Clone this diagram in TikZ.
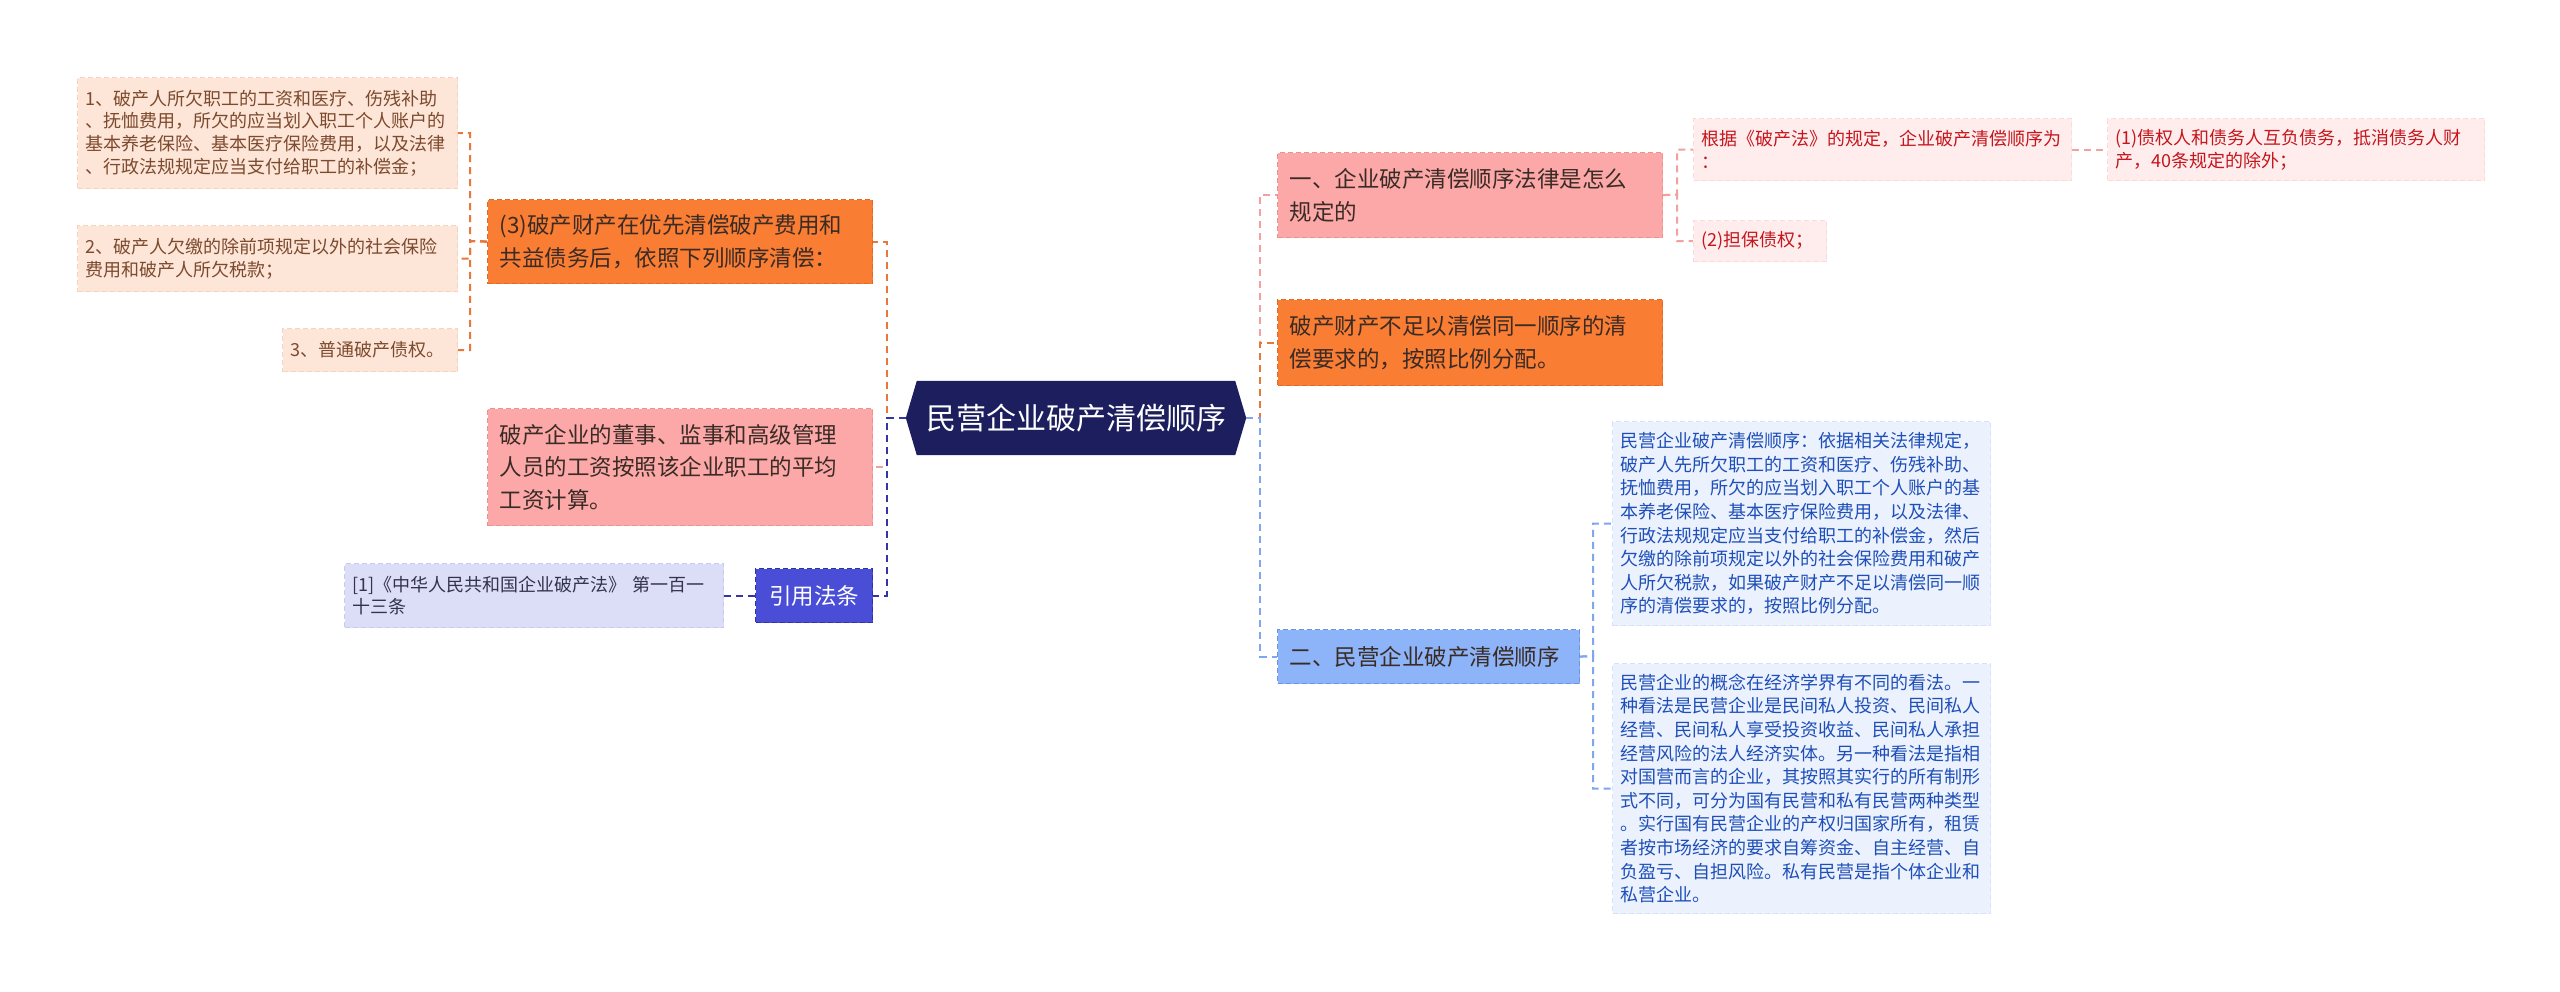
\documentclass[tikz,border=0pt]{standalone}
\usepackage{fontspec}
\setmainfont{Noto Sans CJK SC}
\newcommand\fsz[2]{\fontsize{#1pt}{#2pt}\selectfont}
\definecolor{navy}{HTML}{1C1E5E}
\definecolor{orF}{HTML}{FA7D34}
\definecolor{orD}{HTML}{E06A24}
\definecolor{orE}{HTML}{E8783A}
\definecolor{pkF}{HTML}{FCA8A8}
\definecolor{pkD}{HTML}{EE9090}
\definecolor{pkE}{HTML}{F2A0A0}
\definecolor{peF}{HTML}{FDE5D7}
\definecolor{peD}{HTML}{F6D3C0}
\definecolor{peT}{HTML}{7C4A2E}
\definecolor{roF}{HTML}{FFEDED}
\definecolor{roD}{HTML}{FADADA}
\definecolor{roT}{HTML}{C4161C}
\definecolor{yyF}{HTML}{4A4ED6}
\definecolor{yyD}{HTML}{2F33A8}
\definecolor{yyE}{HTML}{3436A8}
\definecolor{rfF}{HTML}{DCDDF6}
\definecolor{rfD}{HTML}{C8CAEE}
\definecolor{rfT}{HTML}{33334D}
\definecolor{bbF}{HTML}{8DB4F8}
\definecolor{bbD}{HTML}{6B94E0}
\definecolor{bbE}{HTML}{7FA6EE}
\definecolor{blF}{HTML}{EBF1FD}
\definecolor{blD}{HTML}{D6E2F8}
\definecolor{blT}{HTML}{1E4FB8}
\definecolor{dkT}{HTML}{3A2B25}
\pgfdeclarelayer{bg}
\pgfsetlayers{bg,main}
\begin{document}
\begin{tikzpicture}[x=1pt,y=-1pt,
  box/.style={anchor=north west, draw, dashed, dash pattern=on 5pt off 3pt, line width=1.2pt, inner xsep=8pt, inner ysep=0pt, align=left},
  midbox/.style={box, inner xsep=12pt, font=\fsz{22.5}{33}, text=dkT},
  smallbox/.style={box, font=\fsz{18}{22.7}},
  edge/.style={line width=2pt, dash pattern=on 7pt off 5pt}]
\useasboundingbox (0,0) rectangle (2560,991);

% centre
\node[minimum width=340pt, minimum height=74pt, inner sep=0pt, text=white, font=\fsz{30}{36}] (c) at (1076,418) {民营企业破产清偿顺序};
\begin{pgfonlayer}{bg}
\fill[white] (0,0) rectangle (2560,991);
\fill[navy] ([xshift=11pt]c.north west) -- ([xshift=-11pt]c.north east) -- (c.east) -- ([xshift=-11pt]c.south east) -- ([xshift=11pt]c.south west) -- (c.west) -- cycle;
\end{pgfonlayer}

% left branch
\node[midbox, fill=orF, draw=orD, text width=361pt, minimum height=84pt] (n3) at (487,199) {(3)破产财产在优先清偿破产费用和\\共益债务后，依照下列顺序清偿：};
\node[smallbox, fill=peF, draw=peD, text=peT, text width=364pt, minimum height=111pt] (L1) at (77,77) {1、破产人所欠职工的工资和医疗、伤残补助\\、抚恤费用，所欠的应当划入职工个人账户的\\基本养老保险、基本医疗保险费用，以及法律\\、行政法规规定应当支付给职工的补偿金；};
\node[smallbox, fill=peF, draw=peD, text=peT, text width=364pt, minimum height=66pt] (L2) at (77,225) {2、破产人欠缴的除前项规定以外的社会保险\\费用和破产人所欠税款；};
\node[smallbox, fill=peF, draw=peD, text=peT, text width=159pt, minimum height=43pt] (L3) at (282,328) {3、普通破产债权。};
\node[midbox, fill=pkF, draw=pkD, text width=361pt, minimum height=117pt, font=\fsz{22.5}{32.5}] (pk) at (487,408) {破产企业的董事、监事和高级管理\\人员的工资按照该企业职工的平均\\工资计算。};
\node[midbox, fill=yyF, draw=yyD, text=white, inner xsep=8pt, text width=101pt, minimum height=54pt, align=center] (yy) at (755,568) {引用法条};
\node[smallbox, fill=rfF, draw=rfD, text=rfT, text width=363pt, minimum height=64pt] (ref) at (344,563) {[1]《中华人民共和国企业破产法》 第一百一\\十三条};

% right branch
\node[midbox, fill=pkF, draw=pkD, text width=361pt, minimum height=85pt] (r1) at (1277,152) {一、企业破产清偿顺序法律是怎么\\规定的};
\node[midbox, fill=orF, draw=orD, text width=361pt, minimum height=86pt] (ro) at (1277,299) {破产财产不足以清偿同一顺序的清\\偿要求的，按照比例分配。};
\node[midbox, fill=bbF, draw=bbD, text width=278pt, minimum height=54pt] (r2) at (1277,629) {二、民营企业破产清偿顺序};
\node[smallbox, fill=roF, draw=roD, text=roT, text width=362pt, minimum height=62pt] (g) at (1693,118) {根据《破产法》的规定，企业破产清偿顺序为\\：};
\node[smallbox, fill=roF, draw=roD, text=roT, text width=361pt, minimum height=62pt] (g1) at (2107,118) {(1)债权人和债务人互负债务，抵消债务人财\\产，40条规定的除外；};
\node[smallbox, fill=roF, draw=roD, text=roT, text width=117pt, minimum height=41pt] (g2) at (1693,220) {(2)担保债权；};
\node[smallbox, fill=blF, draw=blD, text=blT, text width=362pt, minimum height=204pt, font=\fsz{18}{23.6}] (b1) at (1612,421) {民营企业破产清偿顺序：依据相关法律规定，\\破产人先所欠职工的工资和医疗、伤残补助、\\抚恤费用，所欠的应当划入职工个人账户的基\\本养老保险、基本医疗保险费用，以及法律、\\行政法规规定应当支付给职工的补偿金，然后\\欠缴的除前项规定以外的社会保险费用和破产\\人所欠税款，如果破产财产不足以清偿同一顺\\序的清偿要求的，按照比例分配。};
\node[smallbox, fill=blF, draw=blD, text=blT, text width=362pt, minimum height=250pt, font=\fsz{18}{23.6}] (b2) at (1612,663) {民营企业的概念在经济学界有不同的看法。一\\种看法是民营企业是民间私人投资、民间私人\\经营、民间私人享受投资收益、民间私人承担\\经营风险的法人经济实体。另一种看法是指相\\对国营而言的企业，其按照其实行的所有制形\\式不同，可分为国有民营和私有民营两种类型\\。实行国有民营企业的产权归国家所有，租赁\\者按市场经济的要求自筹资金、自主经营、自\\负盈亏、自担风险。私有民营是指个体企业和\\私营企业。};

% trunks
\coordinate (lt) at (887,418);
\coordinate (rt) at (1260,418);
\coordinate (t3) at (470,241);
\coordinate (t1) at (1677,194.5);
\coordinate (t2) at (1593,656);

% connectors
\draw[edge, orE] (c.west) -- (lt) |- (n3.east);
\draw[edge, pkE] (c.west) -- (lt) |- (pk.east);
\draw[edge, yyE] (c.west) -- (lt) |- (yy.east);
\draw[edge, yyE] (yy.west) -- (ref.east);
\draw[edge, orE] (n3.west) -- (t3) |- (L1.east);
\draw[edge, orE] (n3.west) -- (t3) |- (L2.east);
\draw[edge, orE] (n3.west) -- (t3) |- (L3.east);
\draw[edge, pkE] (c.east) -- (rt) |- (r1.west);
\draw[edge, orE] (c.east) -- (rt) |- (ro.west);
\draw[edge, bbE] (c.east) -- (rt) |- (r2.west);
\draw[edge, pkE] (r1.east) -- (t1) |- (g.west);
\draw[edge, pkE] (r1.east) -- (t1) |- (g2.west);
\draw[edge, pkE] (g.east) -- (g1.west);
\draw[edge, bbE] (r2.east) -- (t2) |- (b1.west);
\draw[edge, bbE] (r2.east) -- (t2) |- (b2.west);
\end{tikzpicture}
\end{document}
